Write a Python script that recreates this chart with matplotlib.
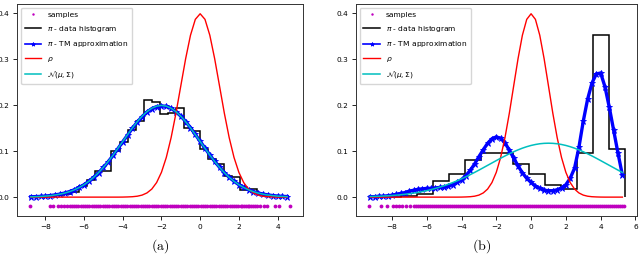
import numpy as np
import matplotlib.pyplot as plt

# ---- panel (a) data ----
edges_a = np.linspace(-8.75, 4.58, 33)
hist_a = [0.001, 0.001, 0.002, 0.004, 0.007, 0.012, 0.024, 0.038,
          0.057, 0.057, 0.100, 0.121, 0.145, 0.165, 0.212, 0.207,
          0.181, 0.183, 0.193, 0.150, 0.143, 0.105, 0.082, 0.072,
          0.047, 0.044, 0.016, 0.017, 0.006, 0.004, 0.002, 0.001]

x_a = np.arange(-8.75, 4.51, 0.25)
rho_a = [0, 0, 0, 0, 0, 0, 0, 0, 0, 0, 0, 0, 0, 0, 0, 0, 0, 0, 0,
         0.0001, 0.0004, 0.0009, 0.0020, 0.0044, 0.0091, 0.0175, 0.0317,
         0.0540, 0.0863, 0.1295, 0.1826, 0.2420, 0.3011, 0.3521, 0.3867,
         0.3989,
         0.3867, 0.3521, 0.3011, 0.2420, 0.1826, 0.1295, 0.0863, 0.0540,
         0.0317, 0.0175, 0.0091, 0.0044, 0.0020, 0.0009, 0.0004, 0.0001,
         0, 0]
gauss_a = [0.0007, 0.0010, 0.0015, 0.0022, 0.0032, 0.0046, 0.0064, 0.0088,
           0.0119, 0.0159, 0.0209, 0.0270, 0.0344, 0.0431, 0.0532, 0.0648,
           0.0775, 0.0913, 0.1061, 0.1210, 0.1359, 0.1506, 0.1641, 0.1760,
           0.1859, 0.1933, 0.1979, 0.1995,
           0.1979, 0.1933, 0.1859, 0.1760, 0.1641, 0.1506, 0.1359, 0.1210,
           0.1061, 0.0913, 0.0775, 0.0648, 0.0532, 0.0431, 0.0344, 0.0270,
           0.0209, 0.0159, 0.0119, 0.0088, 0.0064, 0.0046, 0.0032, 0.0022,
           0.0015, 0.0010]
tm_a = [0.0008, 0.0011, 0.0016, 0.0023, 0.0034, 0.0048, 0.0066, 0.0090,
        0.0121, 0.0160, 0.0210, 0.0271, 0.0345, 0.0432, 0.0531, 0.0645,
        0.0771, 0.0908, 0.1055, 0.1204, 0.1352, 0.1498, 0.1634, 0.1752,
        0.1850, 0.1925, 0.1970, 0.1985,
        0.1975, 0.1932, 0.1860, 0.1762, 0.1644, 0.1510, 0.1363, 0.1214,
        0.1064, 0.0916, 0.0778, 0.0650, 0.0534, 0.0433, 0.0346, 0.0272,
        0.0211, 0.0161, 0.0121, 0.0090, 0.0066, 0.0048, 0.0034, 0.0024,
        0.0017, 0.0012]

samples_a = [-8.78, -7.78, -7.61, -7.35, -7.18, -7.02, -6.88, -6.75,
             -6.64, -6.53, -6.41, -6.30, -6.18, -6.07, -5.95, -5.84, -5.72,
             -5.61, -5.49, -5.38, -5.26, -5.15, -5.03, -4.92, -4.80, -4.69,
             -4.57, -4.46, -4.34, -4.23, -4.11, -4.00, -3.88, -3.77, -3.65,
             -3.54, -3.42, -3.31, -3.19, -3.08, -2.96, -2.85, -2.73, -2.62,
             -2.50, -2.39, -2.27, -2.16, -2.04, -1.93, -1.81, -1.70, -1.58,
             -1.47, -1.35, -1.24, -1.12, -1.01, -0.89, -0.78, -0.66, -0.55,
             -0.43, -0.32, -0.20, -0.09, 0.03, 0.14, 0.26, 0.37, 0.49, 0.60,
             0.72, 0.83, 0.95, 1.06, 1.18, 1.29, 1.41, 1.52, 1.64, 1.75,
             1.87, 1.98, 2.10, 2.17,
             2.27, 2.36, 2.45, 2.55, 2.63, 2.74, 2.83, 2.95, 3.08, 3.31,
             3.47, 3.88, 4.05, 4.63]

# ---- panel (b) data ----
edges_b = np.linspace(-9.34, 5.38, 17)
hist_b = [0.001, 0.001, 0.002, 0.007, 0.034, 0.050, 0.080, 0.095,
          0.097, 0.072, 0.051, 0.026, 0.017, 0.095, 0.352, 0.104]

x_b = np.arange(-9.25, 5.26, 0.25)
rho_b = [0, 0, 0, 0, 0, 0, 0, 0, 0, 0, 0, 0, 0, 0, 0, 0, 0, 0, 0, 0, 0,
         0.0001, 0.0004, 0.0009, 0.0020, 0.0044, 0.0091, 0.0175, 0.0317,
         0.0540, 0.0863, 0.1295, 0.1826, 0.2420, 0.3011, 0.3521, 0.3867,
         0.3989,
         0.3867, 0.3521, 0.3011, 0.2420, 0.1826, 0.1295, 0.0863, 0.0540,
         0.0317, 0.0175, 0.0091, 0.0044, 0.0020, 0.0009, 0.0004, 0.0001,
         0, 0, 0, 0, 0]
gauss_b = [0.0013, 0.0016, 0.0019, 0.0024, 0.0029, 0.0035, 0.0043, 0.0052,
           0.0062, 0.0074, 0.0087, 0.0103, 0.0121, 0.0141, 0.0164, 0.0189,
           0.0217, 0.0247, 0.0281, 0.0317, 0.0356, 0.0398, 0.0442, 0.0489,
           0.0537, 0.0587, 0.0639, 0.0691, 0.0743, 0.0795, 0.0846, 0.0896,
           0.0943, 0.0987, 0.1028, 0.1065, 0.1097, 0.1124, 0.1145, 0.1161,
           0.1170, 0.1173,
           0.1170, 0.1161, 0.1145, 0.1124, 0.1097, 0.1065, 0.1028, 0.0987,
           0.0943, 0.0896, 0.0846, 0.0795, 0.0743, 0.0691, 0.0639, 0.0587,
           0.0537]
tm_b = [0.001, 0.001, 0.002, 0.002, 0.003, 0.004, 0.006, 0.008, 0.010, 0.013,
        0.015, 0.017, 0.018, 0.019, 0.019, 0.020, 0.021, 0.022, 0.024, 0.027,
        0.032, 0.038, 0.047, 0.058, 0.072, 0.088, 0.103, 0.117, 0.127, 0.131,
        0.128, 0.118, 0.102, 0.085, 0.068, 0.053, 0.041, 0.032, 0.024, 0.019,
        0.015, 0.014, 0.014, 0.016, 0.020, 0.027, 0.041, 0.063, 0.108, 0.165,
        0.213, 0.248, 0.268, 0.270, 0.240, 0.195, 0.145, 0.095, 0.048]

samples_b = [-9.30, -8.62, -8.30, -7.96, -7.75, -7.58, -7.42, -7.20, -6.95,
             -6.75, -6.63, -6.52, -6.40, -6.29, -6.17, -6.06, -5.94, -5.83,
             -5.71, -5.60, -5.48, -5.37, -5.25, -5.14, -5.02, -4.91, -4.79,
             -4.68, -4.56, -4.45, -4.33, -4.22, -4.10, -3.99, -3.87, -3.76,
             -3.64, -3.53, -3.41, -3.30, -3.18, -3.07, -2.95, -2.84, -2.72,
             -2.61, -2.49, -2.38, -2.26, -2.15, -2.03, -1.92, -1.80, -1.69,
             -1.57, -1.46, -1.34, -1.23, -1.11, -1.00, -0.88, -0.77, -0.65,
             -0.54, -0.42, -0.31, -0.19, -0.08, 0.04, 0.15, 0.27, 0.38, 0.50,
             0.61, 0.73, 0.84, 0.96, 1.07, 1.19, 1.30, 1.42, 1.53, 1.65, 1.76,
             1.88, 1.99, 2.11, 2.22, 2.34, 2.45, 2.57, 2.68, 2.80, 2.91, 3.03,
             3.14, 3.26, 3.37, 3.49, 3.60, 3.72, 3.83, 3.95, 4.06, 4.18, 4.29,
             4.41, 4.52, 4.64, 4.75, 4.87, 4.98, 5.10, 5.21, 5.33]

sample_level = -0.02

xticks_a = [-8, -6, -4, -2, 0, 2, 4]
xticks_b = [-8, -6, -4, -2, 0, 2, 4, 6]
yticks = [0.0, 0.1, 0.2, 0.3, 0.4]


def draw_panel(ax, samples, edges, hist, x, tm, rho, gauss, xticks):
    ax.plot(samples, np.full(len(samples), sample_level), '.', color='m',
            ms=5.5, mew=0, label='samples')
    ax.stairs(hist, edges, color='k', lw=1.1, label=r'$\pi$ - data histogram')
    ax.plot(x, tm, '-*', color='b', lw=2.4, ms=4.6, mew=0.6,
            label=r'$\pi$ - TM approximation')
    ax.plot(x, rho, color='r', lw=1.0, label=r'$\rho$')
    ax.plot(x, gauss, color='c', lw=1.1, label=r'$\mathcal{N}(\mu,\Sigma)$')
    ax.set_xticks(xticks)
    ax.set_yticks(yticks)
    ax.tick_params(labelsize=5.3, length=3, width=0.6, pad=2.6)
    for s in ax.spines.values():
        s.set_linewidth(0.7)
        s.set_color('#333333')
    leg = ax.legend(loc='upper left', fontsize=5.4, handlelength=2.2,
                    labelspacing=0.75, borderpad=0.5)
    # the legend handle for the TM curve is thinner than the plotted band
    leg.get_lines()[2].set_linewidth(1.2)
    leg.get_lines()[2].set_markersize(3)
    leg.get_lines()[0].set_markersize(3.5)


fig = plt.figure(figsize=(6.4, 2.58), dpi=100)
ax1 = fig.add_axes([0.027, 0.163, 0.446, 0.821])
ax2 = fig.add_axes([0.556, 0.163, 0.440, 0.821])

draw_panel(ax1, samples_a, edges_a, hist_a, x_a, tm_a, rho_a, gauss_a, xticks_a)
draw_panel(ax2, samples_b, edges_b, hist_b, x_b, tm_b, rho_b, gauss_b, xticks_b)

fig.text(0.25, 0.045, r'$\mathrm{(a)}$', ha='center', va='center',
         fontsize=10, math_fontfamily='cm')
fig.text(0.752, 0.045, r'$\mathrm{(b)}$', ha='center', va='center',
         fontsize=10, math_fontfamily='cm')

fig.savefig('out.png', dpi=100)
